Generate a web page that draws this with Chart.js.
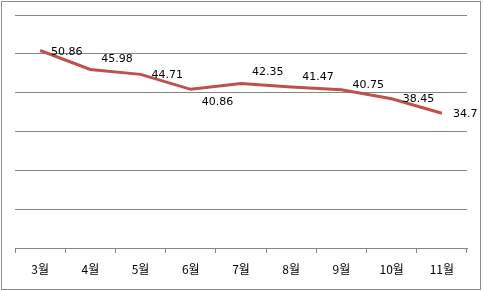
<!DOCTYPE html>
<html lang="ko">
<head>
<meta charset="UTF-8">
<title>월별 추이</title>
<script src="https://cdn.jsdelivr.net/npm/chart.js"></script>
<style>
    * { margin: 0; padding: 0; box-sizing: border-box; }
    body { background: #fff; width: 483px; height: 291px; overflow: hidden; }
    .wrap { position: relative; width: 483px; height: 291px; }
    .frame { position: absolute; left: 1px; top: 1px; width: 480px; height: 289px; border: 1px solid #8c8c8c; pointer-events: none; }
    canvas { display: block; }
</style>
</head>
<body>
<div class="wrap">
    <canvas id="chart" width="483" height="291"></canvas>
    <div class="frame"></div>
</div>
<script>
    // 데이터
    const months = ['3월', '4월', '5월', '6월', '7월', '8월', '9월', '10월', '11월'];
    const values = [50.86, 45.98, 44.71, 40.86, 42.35, 41.47, 40.75, 38.45, 34.7];
    // 라벨 세로 위치 보정 (엑셀에서 손으로 옮긴 라벨)
    const labelShift = [2, -10, 1, 13, -11, -10, -5, 0, 1];

    const pointLabels = {
        id: 'pointLabels',
        afterDatasetsDraw(chart) {
            const ctx = chart.ctx;
            const meta = chart.getDatasetMeta(0);
            ctx.save();
            ctx.font = '11px "DejaVu Sans", sans-serif';
            ctx.fillStyle = '#000';
            ctx.textAlign = 'left';
            ctx.textBaseline = 'middle';
            meta.data.forEach((pt, i) => {
                ctx.fillText(String(values[i]), pt.x + 11, pt.y + labelShift[i]);
            });
            ctx.restore();
        }
    };

    new Chart(document.getElementById('chart'), {
        type: 'line',
        data: {
            labels: months,
            datasets: [{
                data: values,
                borderColor: '#c0504d',
                borderWidth: 3,
                pointRadius: 0,
                tension: 0,
                fill: false
            }]
        },
        options: {
            responsive: false,
            animation: false,
            layout: { padding: { top: 15, left: 15, right: 16, bottom: 0 } },
            plugins: { legend: { display: false }, tooltip: { enabled: false } },
            scales: {
                x: {
                    offset: true,
                    afterFit(s) { s.height = 43; },
                    grid: { offset: true, drawOnChartArea: false, drawTicks: true, tickLength: 5, color: '#868686' },
                    border: { display: true, color: '#868686', width: 1 },
                    ticks: { color: '#000', padding: 9, font: { size: 12, family: '"Noto Sans CJK KR", "DejaVu Sans", sans-serif' }, maxRotation: 0 }
                },
                y: {
                    min: 0,
                    max: 60,
                    ticks: { display: false, stepSize: 10 },
                    grid: { drawTicks: false, color: '#868686' },
                    border: { display: false }
                }
            }
        },
        plugins: [pointLabels]
    });
</script>
</body>
</html>
